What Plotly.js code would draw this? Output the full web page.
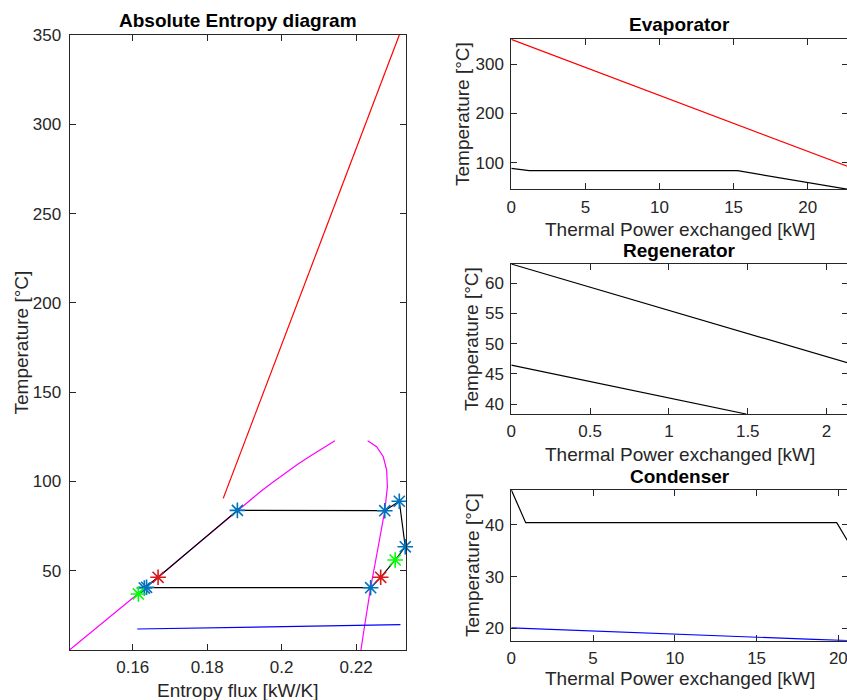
<!DOCTYPE html>
<html>
<head>
<meta charset="utf-8">
<script src="https://cdn.plot.ly/plotly-3.0.1.min.js"></script>
<style>
html, body { margin: 0; padding: 0; overflow: hidden; background: #fff; }
#chart { width: 860px; height: 700px; }
</style>
</head>
<body>
<div id="chart"></div>
<script>
// ---------- Absolute Entropy diagram (T-s) ----------
const domeLeftS = [0.1430, 0.1520, 0.1615, 0.1633, 0.1668, 0.1760, 0.1881, 0.1914, 0.1946, 0.1979, 0.2011, 0.2044, 0.2076, 0.2110, 0.2143];
const domeLeftT = [5.6, 20.9, 37.0, 40.5, 46.3, 62.5, 83.8, 89.5, 94.8, 100.0, 104.9, 109.7, 114.1, 118.7, 122.8];
const domeRightS = [0.2231, 0.2255, 0.2273, 0.2282, 0.2284, 0.2280, 0.2277, 0.2259, 0.2239, 0.2221, 0.2213];
const domeRightT = [122.8, 119.4, 113.8, 106.4, 97.0, 87.7, 83.6, 63.0, 40.5, 16.8, 5.6];
const hotS = [0.1843, 0.2316];
const hotT = [90.5, 350];
const coldS = [0.1612, 0.1900, 0.2319];
const coldT = [17.35, 18.3, 19.8];
const cycleS = [0.1615, 0.1633, 0.1668, 0.1881, 0.2277, 0.2316, 0.2332, 0.2305, 0.2266, 0.2239, 0.1633];
const cycleT = [37.0, 40.5, 46.3, 83.8, 83.6, 88.9, 63.4, 56.0, 46.3, 40.5, 40.5];
const blueStarS = [0.1631, 0.1637, 0.1881, 0.2277, 0.2316, 0.2332, 0.2239];
const blueStarT = [40.3, 40.7, 83.8, 83.6, 88.9, 63.4, 40.5];
const redStarS = [0.1668, 0.2266];
const redStarT = [46.3, 46.3];
const greenStarS = [0.1615, 0.2305];
const greenStarT = [37.0, 56.0];

// ---------- Evaporator ----------
const evapHotQ = [0, 22.72];
const evapHotT = [350, 92];
const evapWfQ = [0, 1.21, 15.27, 22.72];
const evapWfT = [88.6, 83.8, 83.8, 46];

// ---------- Regenerator ----------
const regHotQ = [0, 2.136];
const regHotT = [63.2, 46.8];
const regColdQ = [0, 1.49];
const regColdT = [46.46, 38.35];

// ---------- Condenser ----------
const condWfQ = [0, 0.88, 19.9, 20.59];
const condWfT = [46.8, 40.45, 40.45, 36.8];
const condWaterQ = [0, 20.59];
const condWaterT = [20.1, 17.6];

// ---------- tick labels ----------
const tsXTicks = [0.16, 0.18, 0.2, 0.22];
const tsXText = ['0.16', '0.18', '0.2', '0.22'];
const tsYTicks = [50, 100, 150, 200, 250, 300, 350];
const evapXTicks = [0, 5, 10, 15, 20];
const evapYTicks = [100, 200, 300];
const regXTicks = [0, 0.5, 1, 1.5, 2];
const regXText = ['0', '0.5', '1', '1.5', '2'];
const regYTicks = [40, 45, 50, 55, 60];
const condXTicks = [0, 5, 10, 15, 20];
const condYTicks = [20, 30, 40];

const W = 860, H = 700;
const px = v => v / W;
const py = v => 1 - v / H;

const AX = '#262626';
const FONT = 'Liberation Sans, Arial, Helvetica, sans-serif';

function line(x, y, color, xa, ya) {
  return { x, y, type: 'scatter', mode: 'lines', line: { color, width: 1.2 }, xaxis: xa, yaxis: ya, hoverinfo: 'skip', showlegend: false };
}
function stars(x, y, color) {
  return { x, y, type: 'scatter', mode: 'markers', marker: { symbol: 'asterisk-open', size: 13, color, line: { color, width: 1.6 } }, xaxis: 'x', yaxis: 'y', showlegend: false, cliponaxis: false };
}

const traces = [
  line(domeLeftS, domeLeftT, '#FF00FF', 'x', 'y'),
  line(domeRightS, domeRightT, '#FF00FF', 'x', 'y'),
  line(hotS, hotT, '#FF0000', 'x', 'y'),
  line(coldS, coldT, '#0000FF', 'x', 'y'),
  line(cycleS, cycleT, '#000000', 'x', 'y'),
  stars(blueStarS, blueStarT, '#0072BD'),
  stars(redStarS, redStarT, '#D7191C'),
  stars(greenStarS, greenStarT, '#00FF00'),
  line(evapHotQ, evapHotT, '#FF0000', 'x2', 'y2'),
  line(evapWfQ, evapWfT, '#000000', 'x2', 'y2'),
  line(regHotQ, regHotT, '#000000', 'x3', 'y3'),
  line(regColdQ, regColdT, '#000000', 'x3', 'y3'),
  line(condWfQ, condWfT, '#000000', 'x4', 'y4'),
  line(condWaterQ, condWaterT, '#0000FF', 'x4', 'y4'),
];

function axis(domain, range, tickvals, ticktext, anchor, standoff) {
  const a = {
    domain, range, tickvals, anchor,
    showline: true, linecolor: AX, linewidth: 1, mirror: 'ticks',
    ticks: 'inside', ticklen: 6, tickcolor: AX, tickwidth: 1,
    showgrid: false, zeroline: false,
    ticklabelstandoff: standoff,
    tickfont: { family: FONT, size: 17, color: AX },
    fixedrange: true
  };
  if (ticktext) a.ticktext = ticktext;
  return a;
}

const layout = {
  width: W, height: H,
  margin: { l: 0, r: 0, t: 0, b: 0 },
  paper_bgcolor: '#fff', plot_bgcolor: '#fff',
  showlegend: false,
  xaxis: axis([px(69.5), px(406)], [0.1430, 0.2334], tsXTicks, tsXText, 'y', 2),
  yaxis: axis([py(650), py(35)], [5.6, 350], tsYTicks, null, 'x', 4),
  xaxis2: axis([px(511.3), px(848)], [0, 22.72], evapXTicks, null, 'y2', 2),
  yaxis2: axis([py(189.3), py(39)], [46, 350.7], evapYTicks, null, 'x2', 3),
  xaxis3: axis([px(511.3), px(848)], [0, 2.136], regXTicks, regXText, 'y3', 2),
  yaxis3: axis([py(414), py(263.7)], [38.35, 63.25], regYTicks, null, 'x3', 3),
  xaxis4: axis([px(511.3), px(848)], [0, 20.59], condXTicks, null, 'y4', 2),
  yaxis4: axis([py(640.7), py(490)], [17.6, 46.77], condYTicks, null, 'x4', 3),
  annotations: []
};

function ann(text, x, y, opts) {
  return Object.assign({
    text, x: px(x), y: py(y), xref: 'paper', yref: 'paper',
    showarrow: false, xanchor: 'center', yanchor: 'middle',
    font: { family: FONT, size: 19, color: AX }
  }, opts || {});
}
const titleFont = { family: FONT, size: 19, color: '#000', weight: 'bold' };
layout.annotations.push(
  ann('<b>Absolute Entropy diagram</b>', 237.5, 20.5, { font: titleFont }),
  ann('<b>Evaporator</b>', 679.5, 25, { font: titleFont }),
  ann('<b>Regenerator</b>', 679.5, 250, { font: titleFont }),
  ann('<b>Condenser</b>', 679.5, 476.5, { font: titleFont }),
  ann('Entropy flux [kW/K]', 237.5, 690),
  ann('Thermal Power exchanged [kW]', 679.5, 230),
  ann('Thermal Power exchanged [kW]', 679.5, 454),
  ann('Thermal Power exchanged [kW]', 679.5, 678.3),
  ann('Temperature [°C]', 21, 342.5, { textangle: -90 }),
  ann('Temperature [°C]', 463, 114, { textangle: -90 }),
  ann('Temperature [°C]', 472, 339, { textangle: -90 }),
  ann('Temperature [°C]', 472, 565, { textangle: -90 })
);

Plotly.newPlot('chart', traces, layout, { staticPlot: true, displayModeBar: false });
</script>
</body>
</html>
